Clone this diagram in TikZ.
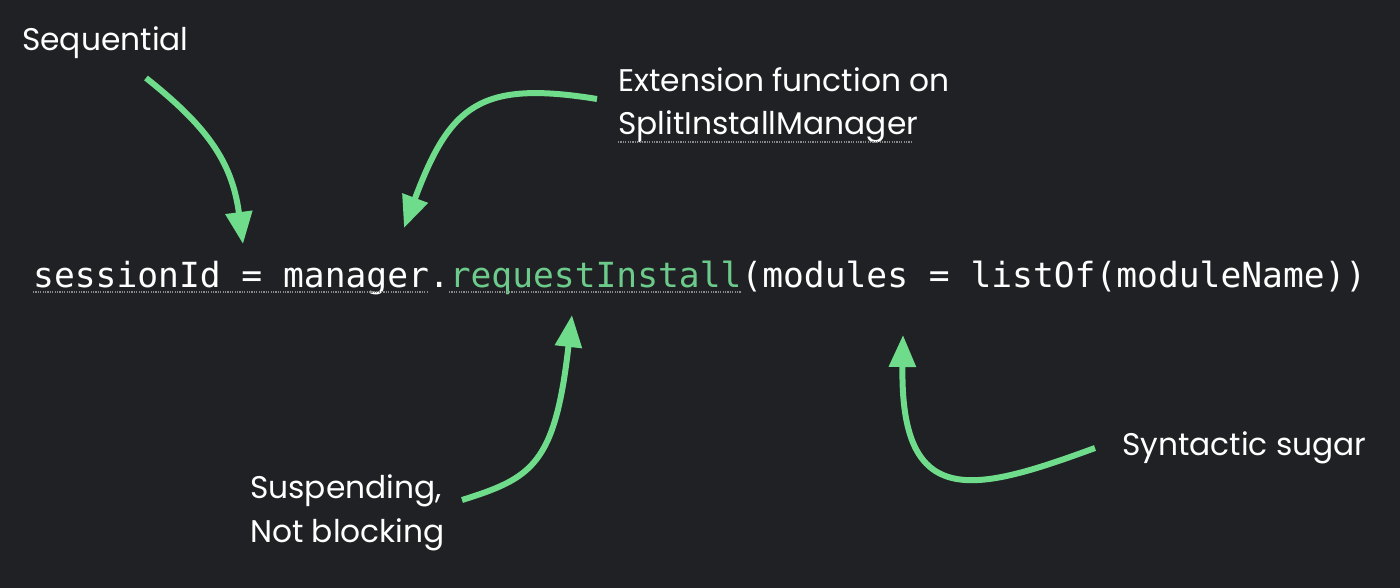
\documentclass[tikz,border=0pt]{standalone}
\usepackage{fontspec}
\setmainfont{Poppins}
\newfontfamily\codefont{DejaVu Sans Mono}
\usetikzlibrary{arrows.meta}
\definecolor{bg}{HTML}{202124}
\definecolor{grn}{HTML}{6FDC8C}
\definecolor{codegrn}{HTML}{6CCB8A}
\definecolor{ul}{HTML}{8A8A8A}
\tikzset{
  lbl/.style={text=white, inner sep=0pt, anchor=base west, font=\fontsize{31.3}{38}\selectfont},
  code/.style={text=white, inner sep=0pt, anchor=base west, font=\codefont\fontsize{34.6}{40}\selectfont},
  arr/.style={draw=grn, line width=6pt, -{Triangle[length=32pt,width=26pt]}},
  uline/.style={draw=ul, line width=1.3pt, dash pattern=on 1.2pt off 1.2pt}
}
\begin{document}
\begin{tikzpicture}[x=1pt,y=-1pt]
\fill[bg] (0,0) rectangle (1400,588);
\useasboundingbox (0,0) rectangle (1400,588);
% labels
\node[lbl] (seq) at (22,51) {Sequential};
\node[lbl] (ext1) at (618,92) {Extension function on};
\node[lbl] (ext2) at (618,135) {SplitInstallManager};
\node[lbl] (susp1) at (250,498) {Suspending,};
\node[lbl] (susp2) at (250,542) {Not blocking};
\node[lbl] (syn) at (1122,455) {Syntactic sugar};
% code line
\node[code] (codeline) at (33,287) {sessionId = manager.\textcolor{codegrn}{requestInstall}(modules = listOf(moduleName))};
% underlines
\coordinate (u1a) at (33,292);
\coordinate (u1b) at (428,292);
\coordinate (u2a) at (449,292);
\coordinate (u2b) at (741,292);
\coordinate (u3a) at (618,142);
\coordinate (u3b) at (913,142);
\draw[uline] (u1a) -- (u1b);
\draw[uline] (u2a) -- (u2b);
\draw[uline] (u3a) -- (u3b);
% arrows
\coordinate (a1s) at (146,78);
\coordinate (a1e) at (243,244);
\draw[arr] (a1s) .. controls (205,125) and (232,160) .. (a1e);
\coordinate (a2s) at (597,99);
\coordinate (a2e) at (404,228);
\draw[arr] (a2s) .. controls (480,80) and (450,105) .. (a2e);
\coordinate (a3s) at (462,500);
\coordinate (a3e) at (572,315);
\draw[arr] (a3s) .. controls (532,478) and (555,465) .. (a3e);
\coordinate (a4s) at (1095,448);
\coordinate (a4e) at (903,335);
\draw[arr] (a4s) .. controls (975,492) and (900,512) .. (a4e);
\end{tikzpicture}
\end{document}
